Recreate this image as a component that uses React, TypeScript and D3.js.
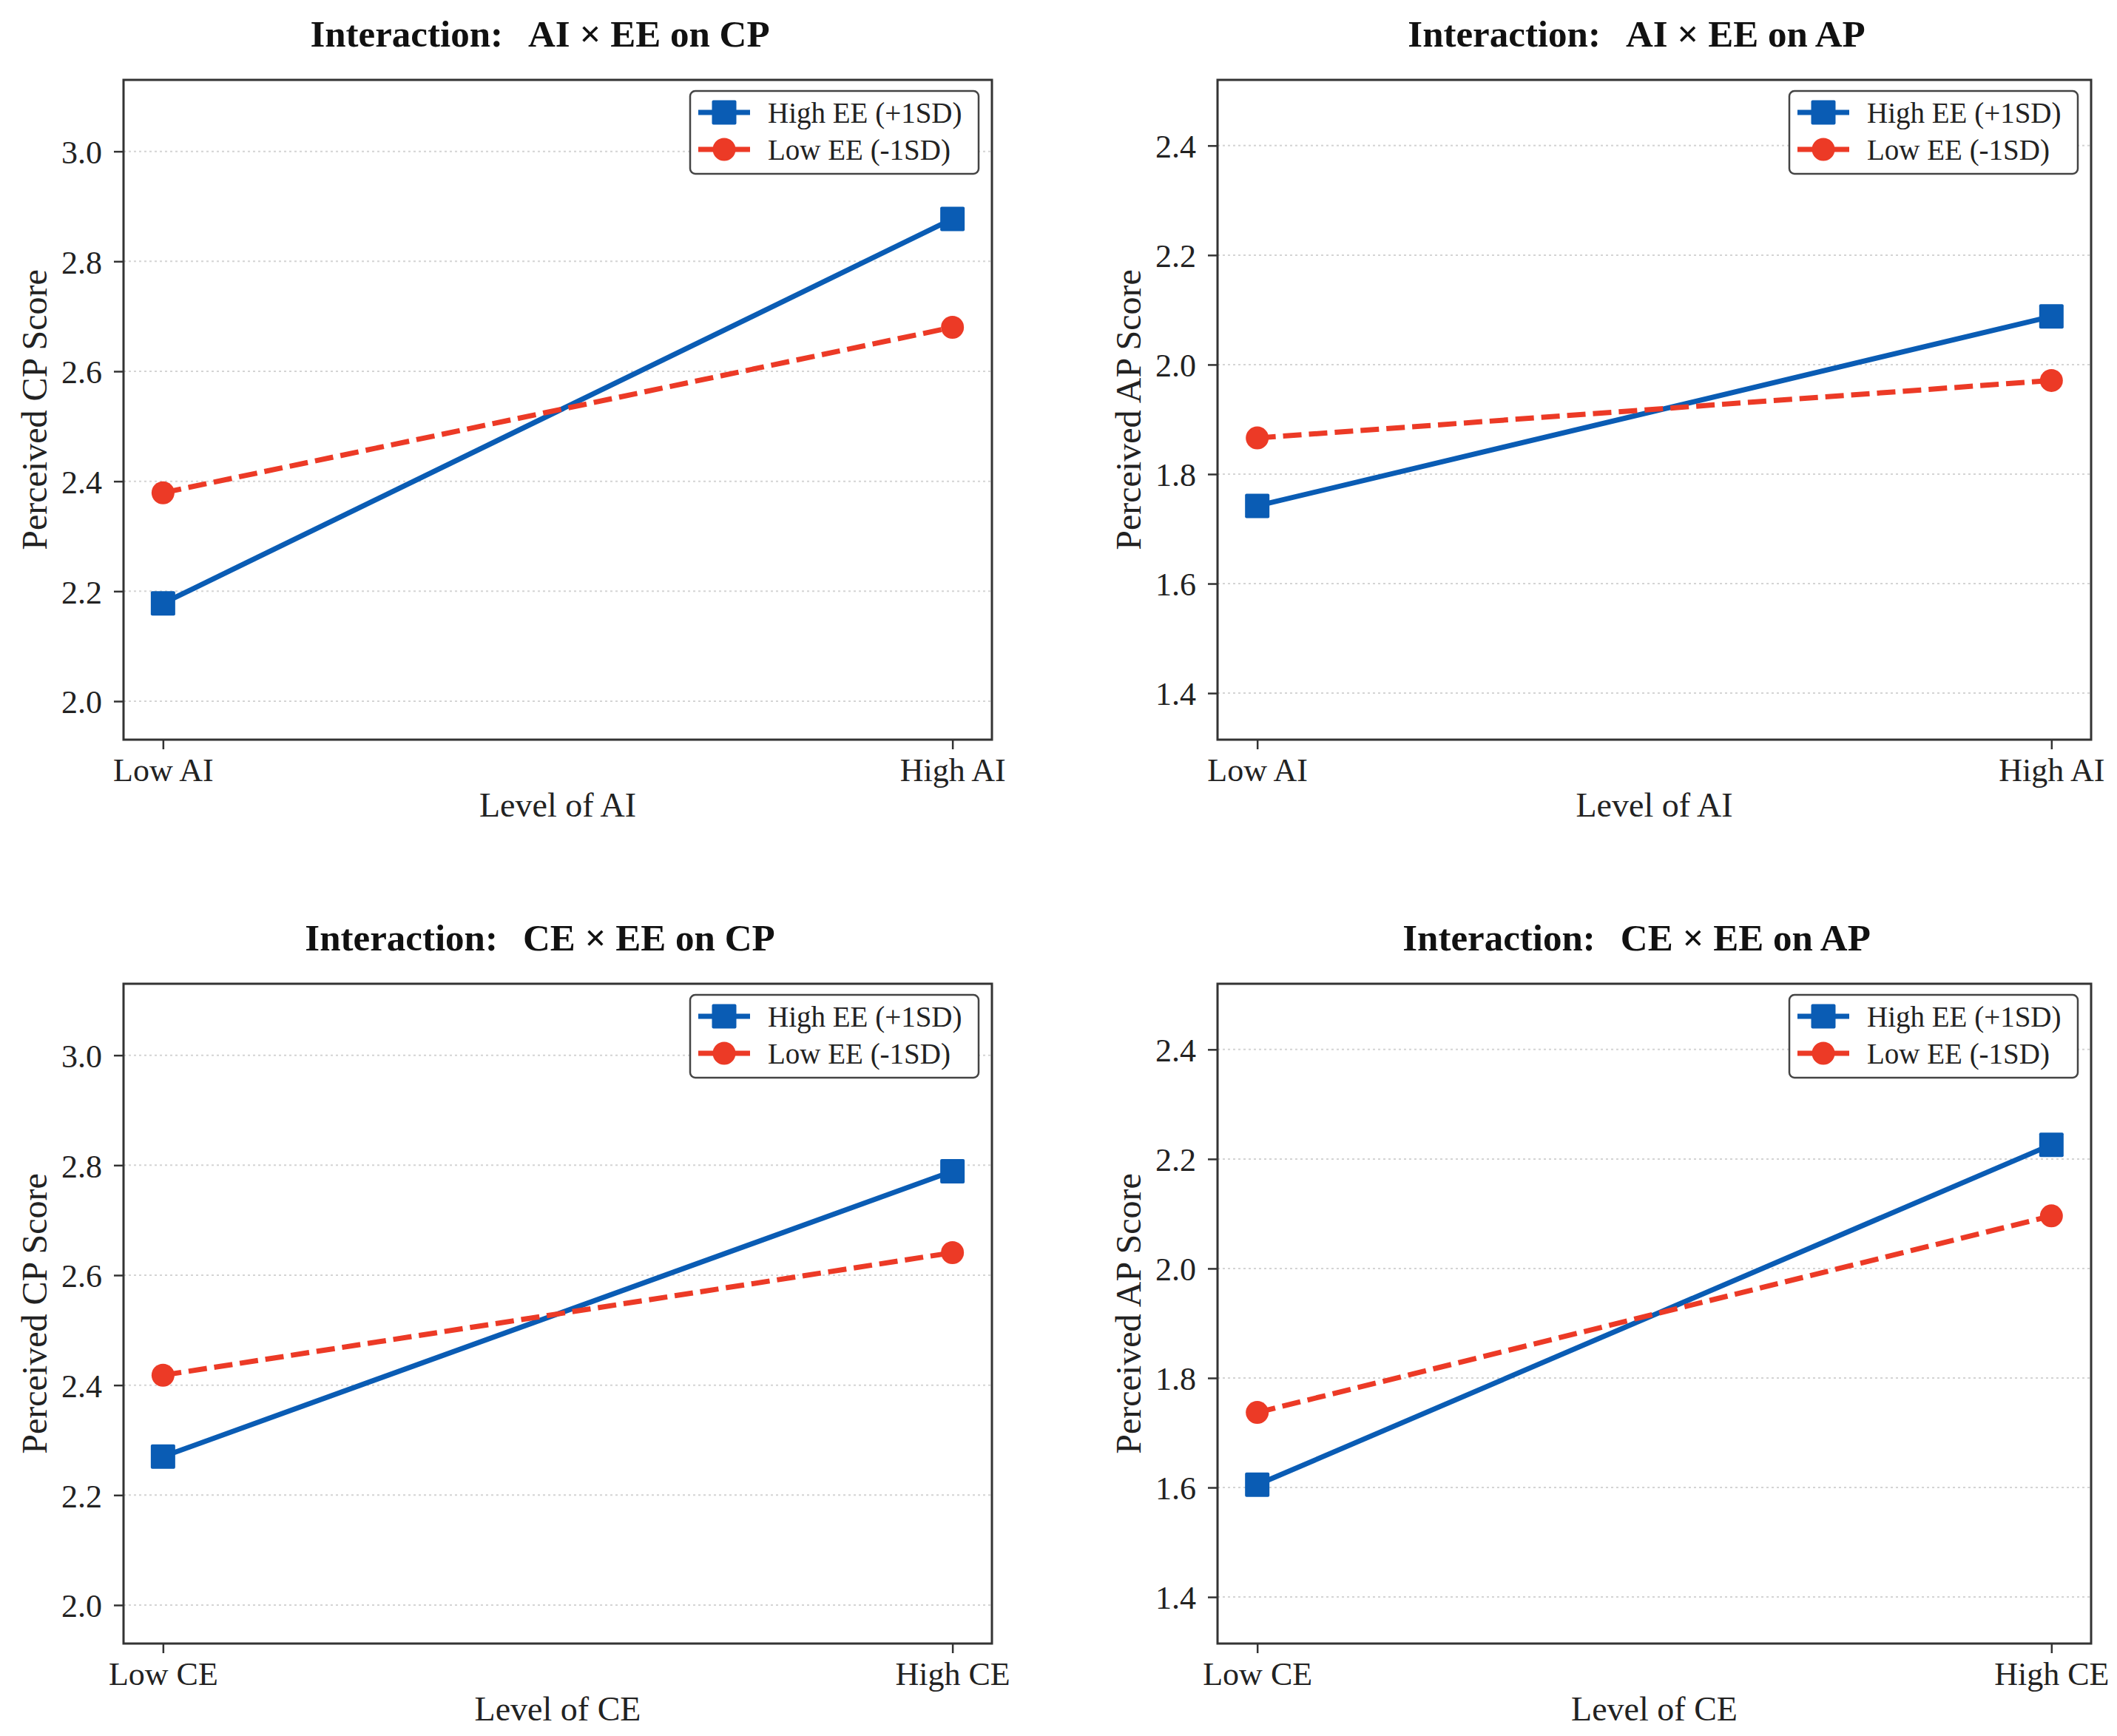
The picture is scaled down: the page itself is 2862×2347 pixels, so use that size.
import { useRef, useEffect } from 'react';
import * as d3 from 'd3';

const WIDTH = 2862;
const HEIGHT = 2347;

const aiLevels = ['Low AI', 'High AI'];
const ceLevels = ['Low CE', 'High CE'];
const legendLabels = ['High EE (+1SD)', 'Low EE (-1SD)'];

// simple slopes
const aiOnCpHigh = [2.178, 2.877];
const aiOnCpLow = [2.379, 2.68];
const aiOnApHigh = [1.742, 2.088];
const aiOnApLow = [1.866, 1.971];
const ceOnCpHigh = [2.27, 2.789];
const ceOnCpLow = [2.418, 2.641];
const ceOnApHigh = [1.605, 2.226];
const ceOnApLow = [1.737, 2.096];

const cpTicks = [2.0, 2.2, 2.4, 2.6, 2.8, 3.0];
const apTicks = [1.4, 1.6, 1.8, 2.0, 2.2, 2.4];
const cpLimits = [1.93, 3.13];
const apLimits = [1.315, 2.52];

const BLUE = '#0a5cb4';
const RED = '#ec3a26';
const INK = '#222222';
const FRAME = '#333333';
const FONT = '"Liberation Serif", "Times New Roman", serif';

interface PanelConfig {
  titleRest: string;
  xLabel: string;
  yLabel: string;
  levels: string[];
  high: number[];
  low: number[];
  ticks: number[];
  limits: number[];
  left: number;
  top: number;
  width: number;
  height: number;
}

const PANEL_H = 892;

const panels: PanelConfig[] = [
  {
    titleRest: 'AI × EE on CP', xLabel: 'Level of AI', yLabel: 'Perceived CP Score',
    levels: aiLevels, high: aiOnCpHigh, low: aiOnCpLow, ticks: cpTicks, limits: cpLimits,
    left: 167, top: 108, width: 1174, height: PANEL_H,
  },
  {
    titleRest: 'AI × EE on AP', xLabel: 'Level of AI', yLabel: 'Perceived AP Score',
    levels: aiLevels, high: aiOnApHigh, low: aiOnApLow, ticks: apTicks, limits: apLimits,
    left: 1646, top: 108, width: 1181, height: PANEL_H,
  },
  {
    titleRest: 'CE × EE on CP', xLabel: 'Level of CE', yLabel: 'Perceived CP Score',
    levels: ceLevels, high: ceOnCpHigh, low: ceOnCpLow, ticks: cpTicks, limits: cpLimits,
    left: 167, top: 1330, width: 1174, height: PANEL_H,
  },
  {
    titleRest: 'CE × EE on AP', xLabel: 'Level of CE', yLabel: 'Perceived AP Score',
    levels: ceLevels, high: ceOnApHigh, low: ceOnApLow, ticks: apTicks, limits: apLimits,
    left: 1646, top: 1330, width: 1181, height: PANEL_H,
  },
];

type Sel = d3.Selection<SVGGElement, unknown, null, undefined>;

function drawSquare(g: Sel, cx: number, cy: number, size: number) {
  g.append('rect')
    .attr('x', cx - size / 2).attr('y', cy - size / 2)
    .attr('width', size).attr('height', size)
    .attr('rx', 2)
    .attr('fill', BLUE);
}

function drawCircle(g: Sel, cx: number, cy: number, r: number) {
  g.append('circle').attr('cx', cx).attr('cy', cy).attr('r', r).attr('fill', RED);
}

function drawPanel(root: Sel, p: PanelConfig) {
  const g = root.append('g').attr('transform', `translate(${p.left},${p.top})`);

  const x = d3.scalePoint<string>().domain(p.levels).range([0, p.width]).padding(0.05);
  const y = d3.scaleLinear().domain(p.limits).range([p.height, 0]);

  // dotted horizontal grid
  g.selectAll('.grid')
    .data(p.ticks)
    .enter()
    .append('line')
    .attr('x1', 0).attr('x2', p.width)
    .attr('y1', (d) => y(d)).attr('y2', (d) => y(d))
    .attr('stroke', '#d4d4d4')
    .attr('stroke-width', 2)
    .attr('stroke-dasharray', '3 4');

  const line = d3.line<number>()
    .x((_, i) => x(p.levels[i]) ?? 0)
    .y((d) => y(d));

  // high EE first, low EE drawn over it
  g.append('path')
    .datum(p.high)
    .attr('d', line)
    .attr('fill', 'none')
    .attr('stroke', BLUE)
    .attr('stroke-width', 7);
  p.high.forEach((v, i) => drawSquare(g, x(p.levels[i]) ?? 0, y(v), 33));

  g.append('path')
    .datum(p.low)
    .attr('d', line)
    .attr('fill', 'none')
    .attr('stroke', RED)
    .attr('stroke-width', 7)
    .attr('stroke-dasharray', '25 10');
  p.low.forEach((v, i) => drawCircle(g, x(p.levels[i]) ?? 0, y(v), 15.5));

  // y axis
  const yAxis = g.append('g').call(
    d3.axisLeft(y)
      .tickValues(p.ticks)
      .tickSize(13)
      .tickPadding(16)
      .tickFormat((d) => d3.format('.1f')(d as number))
  );
  yAxis.select('.domain').remove();
  yAxis.selectAll('line').attr('stroke', FRAME).attr('stroke-width', 2.5);
  yAxis.selectAll('text')
    .attr('font-family', FONT)
    .attr('font-size', 44)
    .attr('fill', INK)
    .attr('dy', '0.36em');

  // x axis
  const xAxis = g.append('g')
    .attr('transform', `translate(0,${p.height})`)
    .call(d3.axisBottom(x).tickSize(13).tickPadding(12));
  xAxis.select('.domain').remove();
  xAxis.selectAll('line').attr('stroke', FRAME).attr('stroke-width', 2.5);
  xAxis.selectAll('text')
    .attr('font-family', FONT)
    .attr('font-size', 44)
    .attr('fill', INK);

  // frame
  g.append('rect')
    .attr('width', p.width)
    .attr('height', p.height)
    .attr('fill', 'none')
    .attr('stroke', FRAME)
    .attr('stroke-width', 3);

  // labels
  g.append('text')
    .attr('x', p.width / 2)
    .attr('y', p.height + 104)
    .attr('text-anchor', 'middle')
    .attr('font-family', FONT)
    .attr('font-size', 46)
    .attr('fill', INK)
    .text(p.xLabel);

  g.append('text')
    .attr('transform', `translate(-104,${p.height / 2}) rotate(-90)`)
    .attr('text-anchor', 'middle')
    .attr('font-family', FONT)
    .attr('font-size', 48)
    .attr('fill', INK)
    .text(p.yLabel);

  const title = g.append('text')
    .attr('x', p.width / 2 - 24)
    .attr('y', -45)
    .attr('text-anchor', 'middle')
    .attr('font-family', FONT)
    .attr('font-size', 51)
    .attr('font-weight', 'bold')
    .attr('fill', '#111');
  title.append('tspan').text('Interaction:');
  title.append('tspan').attr('dx', 34).text(p.titleRest);

  // legend
  const legend = g.append('g').attr('transform', `translate(${p.width - 18 - 390},15)`);
  legend.append('rect')
    .attr('width', 390)
    .attr('height', 112)
    .attr('rx', 7)
    .attr('fill', '#fff')
    .attr('stroke', '#444')
    .attr('stroke-width', 2.5);

  const rows = [
    { label: legendLabels[0], color: BLUE, cy: 29, square: true },
    { label: legendLabels[1], color: RED, cy: 79, square: false },
  ];
  rows.forEach((r) => {
    legend.append('line')
      .attr('x1', 11).attr('x2', 81)
      .attr('y1', r.cy).attr('y2', r.cy)
      .attr('stroke', r.color)
      .attr('stroke-width', 7);
    if (r.square) drawSquare(legend, 46, r.cy, 33);
    else drawCircle(legend, 46, r.cy, 15.5);
    legend.append('text')
      .attr('x', 105)
      .attr('y', r.cy)
      .attr('dy', '0.35em')
      .attr('font-family', FONT)
      .attr('font-size', 39)
      .attr('fill', INK)
      .text(r.label);
  });
}

export default function App() {
  const svgRef = useRef<SVGSVGElement>(null);

  useEffect(() => {
    if (!svgRef.current) return;
    const svg = d3.select(svgRef.current);
    svg.selectAll('*').remove();
    const root = svg.append('g') as unknown as Sel;
    panels.forEach((p) => drawPanel(root, p));
  }, []);

  return (
    <div style={{ position: 'absolute', left: 0, top: 0, background: '#fff' }}>
      <svg ref={svgRef} width={WIDTH} height={HEIGHT} style={{ display: 'block', background: '#fff' }} />
    </div>
  );
}
